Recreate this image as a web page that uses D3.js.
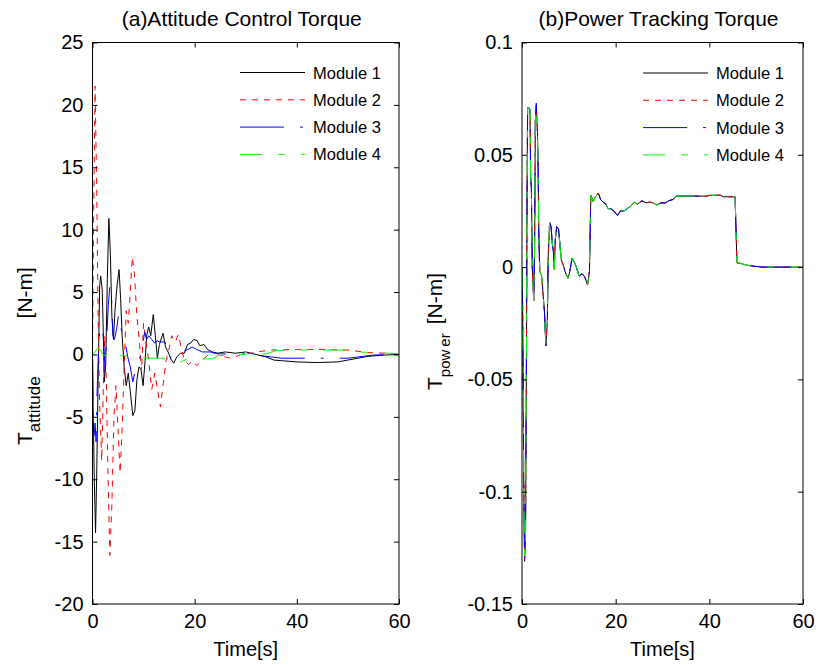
<!DOCTYPE html>
<html>
<head>
<meta charset="utf-8">
<script src="https://cdn.jsdelivr.net/npm/d3@7/dist/d3.min.js"></script>
<style>
  body { margin: 0; background: #fff; }
  svg text { font-family: "Liberation Sans", Arial, Helvetica, sans-serif; fill: #000; }
</style>
</head>
<body>
<svg id="chart" width="817" height="667"></svg>
<script>
// ---------- data ----------
const moduleNames = ["Module 1", "Module 2", "Module 3", "Module 4"];

// (a) attitude control torque, [time s, torque N-m]
const attitudeModule1 = [[0,0],[0.15,-5],[0.35,-10],[0.6,-14.3],[0.85,-9],[1.1,-2],[1.4,5.5],[1.6,6.3],[1.9,5.2],[2.1,2],[2.3,-2.2],[2.6,-0.5],[2.9,6],[3.2,10.9],[3.5,8],[3.8,3],[4.1,1.2],[4.4,3.5],[4.8,5.5],[5.2,6.8],[5.5,4.5],[5.8,1.5],[6.2,-1],[6.6,-2.5],[7.0,-1.5],[7.4,-3],[7.9,-4.9],[8.3,-4.5],[8.7,-2],[9.1,-1],[9.5,-1.2],[9.9,-2.5],[10.3,-0.5],[10.6,1.5],[11.0,2.2],[11.4,1.5],[11.9,3.2],[12.3,1.5],[12.7,-0.3],[13.1,0.8],[13.8,1.7],[14.3,0.6],[14.8,0.2],[15.4,-0.4],[15.9,-0.7],[16.5,-0.2],[17.2,0.1],[18.0,0.1],[18.6,0.8],[19.2,0.9],[19.8,1.2],[20.5,1.1],[21.0,0.7],[21.8,0.8],[22.5,0.4],[23.5,0.2],[24.5,0.1],[26,0.2],[28,0.1],[30,0.2],[32,0],[34,-0.2],[35.5,-0.45],[37,-0.5],[40,-0.6],[44,-0.65],[48,-0.6],[50,-0.45],[52,-0.3],[54,-0.15],[57,-0.05],[60,0]];
const attitudeModule2 = [[0,0],[0.2,10],[0.5,21.5],[0.8,14],[1.1,3],[1.4,-4],[1.8,-8.5],[2.1,-3],[2.4,1.5],[2.7,-2],[3.0,-9],[3.4,-16.1],[3.8,-12],[4.2,-5],[4.6,-2.5],[5.0,-6],[5.4,-9.5],[5.8,-6],[6.2,-1],[6.6,3.5],[7.0,2.5],[7.4,5],[7.8,7.8],[8.2,6.5],[8.7,3],[9.2,1],[9.6,-1.4],[10.0,2.5],[10.5,1],[11.0,-0.5],[11.6,-2.8],[12.2,-1.5],[12.8,-3],[13.3,-4.2],[13.8,-2.5],[14.4,-0.5],[15.0,0.5],[15.5,1.5],[16.2,1],[16.8,1.6],[17.4,0.5],[18.0,-0.5],[18.8,-0.8],[19.6,-0.5],[20.4,-0.9],[21.2,-0.6],[22.2,-0.2],[23,0.1],[24,0.1],[25,0],[26,-0.2],[27,-0.3],[28,-0.2],[29,0],[31,0.1],[33,0.25],[35,0.35],[40,0.4],[45,0.4],[50,0.35],[52,0.25],[54,0.15],[57,0.1],[60,0.05]];
const attitudeModule3 = [[0,0],[0.1,-4],[0.3,-6.5],[0.5,-5.5],[0.7,-7],[0.9,-3],[1.2,0.5],[1.5,2.3],[1.8,2],[2.1,1.5],[2.5,-1.4],[2.8,1.5],[3.1,4],[3.4,5.5],[3.7,5],[4.0,1.5],[4.3,1.2],[4.7,2],[5.1,3.2],[5.5,2.3],[5.9,1.5],[6.4,1],[6.9,-0.2],[7.4,-1],[7.9,-2.2],[8.3,-1.4],[8.8,-0.8],[9.3,-0.2],[9.8,0.6],[10.2,1.8],[10.6,1.2],[11.0,1.5],[11.6,1.2],[12.2,0.9],[12.6,1.1],[13.2,1.0],[14.2,1.0],[14.8,0.2],[15.2,-0.4],[15.6,0.1],[16.5,0.2],[17.3,0.2],[18.7,0.4],[19.5,0.6],[20.4,0.4],[21.5,0.2],[23,0.2],[25,0.05],[28,0],[30,0.05],[33,-0.1],[35,-0.2],[37,-0.3],[41,-0.3],[45,-0.3],[48,-0.3],[50,-0.3],[52,-0.2],[55,-0.05],[60,0]];
const attitudeModule4 = [[0,0],[0.5,0.2],[1.0,0.5],[1.5,0.4],[2.0,0],[2.5,-0.1],[3.0,0.1],[3.5,0],[4,0.2],[4.5,0],[5,-0.1],[7,-0.1],[9,-0.15],[11,-0.3],[14,-0.3],[15,-0.5],[16,-0.6],[17.4,-0.6],[18.5,-0.35],[20,-0.35],[23.5,-0.35],[24.5,-0.1],[27,-0.05],[30,0],[34,0.05],[36,0.3],[40,0.35],[45,0.35],[50,0.35],[52,0.2],[55,0.15],[58,0.1],[60,0.05]];

// (b) power tracking torque, shared time base [s]
const powerTime = [0,0.15,0.35,0.55,0.75,0.95,1.1,1.2,1.5,1.7,1.85,2.0,2.2,2.5,2.7,2.85,3.05,3.3,3.45,3.6,3.8,4.2,4.5,4.8,5.1,5.4,5.6,5.9,6.2,6.5,6.7,6.9,7.1,7.4,7.8,8.1,8.4,8.8,9.2,9.8,10.2,10.7,11.2,11.6,12.2,12.8,13.3,13.7,14.0,14.4,14.7,15.2,15.6,16.3,16.8,17.3,17.9,18.4,19.0,19.6,20.4,21.0,21.8,22.4,23.2,23.9,24.6,25.6,26.5,27.4,28.2,28.8,29.6,30.6,31.3,32.2,33.0,36,38,39.5,40.2,42.4,43.0,45.5,45.9,46.8,47.8,49.5,51.5,60];
const powerModule1 = [0,-0.02,-0.09,-0.131,-0.12,-0.04,0.04,0.071,0.071,0.07,0.04,0.035,0.0,-0.015,0.01,0.065,0.072,0.06,0.042,0.013,-0.002,-0.004,-0.012,-0.02,-0.035,-0.025,0.005,0.02,0.018,0.01,0.007,-0.001,0.012,0.018,0.017,0.01,0.003,0.001,-0.002,-0.005,-0.002,0.004,0.002,0.0,-0.004,-0.003,-0.004,-0.006,-0.008,-0.002,0.032,0.029,0.031,0.033,0.030,0.029,0.028,0.026,0.026,0.025,0.023,0.025,0.025,0.026,0.027,0.029,0.028,0.0295,0.0286,0.029,0.0283,0.0276,0.0286,0.0286,0.0295,0.0301,0.0316,0.0316,0.0316,0.0316,0.032,0.032,0.0313,0.0313,0.0019,0.0016,0.0009,0.0004,0,0];
const powerModule2 = [0,-0.02,-0.09,-0.130,-0.12,-0.04,0.04,0.071,0.071,0.07,0.04,0.035,0.0,-0.015,0.01,0.065,0.072,0.06,0.042,0.013,-0.002,-0.004,-0.012,-0.02,-0.034,-0.025,0.005,0.02,0.018,0.01,0.007,-0.001,0.012,0.018,0.017,0.01,0.003,0.001,-0.002,-0.005,-0.002,0.004,0.002,0.0,-0.004,-0.003,-0.004,-0.006,-0.008,-0.002,0.032,0.029,0.031,0.033,0.030,0.029,0.028,0.026,0.026,0.025,0.023,0.025,0.025,0.026,0.027,0.029,0.028,0.0295,0.0286,0.029,0.0283,0.0276,0.0286,0.0286,0.0295,0.0301,0.0316,0.0316,0.0316,0.0316,0.032,0.032,0.0313,0.0313,0.0019,0.0016,0.0009,0.0004,0,0];
const powerModule3 = [0,-0.02,-0.09,-0.131,-0.12,-0.04,0.04,0.071,0.071,0.07,0.04,0.035,0.0,-0.015,0.01,0.065,0.073,0.06,0.042,0.013,-0.002,-0.004,-0.012,-0.02,-0.035,-0.025,0.005,0.02,0.018,0.01,0.007,-0.001,0.012,0.018,0.017,0.01,0.003,0.001,-0.002,-0.005,-0.002,0.004,0.002,0.0,-0.004,-0.003,-0.004,-0.006,-0.008,-0.002,0.032,0.029,0.031,0.033,0.030,0.029,0.028,0.026,0.026,0.025,0.023,0.025,0.025,0.026,0.027,0.029,0.028,0.0295,0.0286,0.029,0.0283,0.0276,0.0286,0.0286,0.0295,0.0301,0.0316,0.0316,0.0316,0.0316,0.032,0.032,0.0313,0.0313,0.0019,0.0016,0.0009,0.0004,0,0];
const powerModule4 = [0,-0.02,-0.09,-0.129,-0.12,-0.04,0.04,0.071,0.071,0.07,0.04,0.035,0.0,-0.015,0.01,0.065,0.071,0.06,0.042,0.013,-0.002,-0.004,-0.012,-0.02,-0.034,-0.025,0.005,0.02,0.018,0.01,0.007,-0.001,0.012,0.018,0.017,0.01,0.003,0.001,-0.002,-0.005,-0.002,0.004,0.002,0.0,-0.004,-0.003,-0.004,-0.006,-0.008,-0.002,0.032,0.029,0.031,0.033,0.030,0.029,0.028,0.026,0.026,0.025,0.023,0.025,0.025,0.026,0.027,0.029,0.028,0.0295,0.0286,0.029,0.0283,0.0276,0.0286,0.0286,0.0295,0.0301,0.0316,0.0316,0.0316,0.0316,0.032,0.032,0.0313,0.0313,0.0019,0.0016,0.0009,0.0004,0,0];

// axis ticks
const timeTicks = [0, 20, 40, 60];
const attitudeTicks = [-20, -15, -10, -5, 0, 5, 10, 15, 20, 25];
const powerTicks = [-0.15, -0.1, -0.05, 0, 0.05, 0.1];

// ---------- styles ----------
const lineStyles = [
  { color: "#000000", dash: null },
  { color: "#ff0000", dash: "6,6" },
  { color: "#0000ff", dash: "44,16,3,16" },
  { color: "#00ff00", dash: "22,16,7,16" }
];

const svg = d3.select("#chart");

function drawPanel(cfg) {
  const x = d3.scaleLinear().domain([0, 60]).range([cfg.left, cfg.right]);
  const y = d3.scaleLinear().domain(cfg.yDomain).range([cfg.bottom, cfg.top]);
  const g = svg.append("g");

  const clipId = "clip-" + cfg.id;
  svg.append("defs").append("clipPath").attr("id", clipId)
    .append("rect").attr("x", cfg.left).attr("y", cfg.top)
    .attr("width", cfg.right - cfg.left).attr("height", cfg.bottom - cfg.top);

  const line = d3.line().x(d => x(d[0])).y(d => y(d[1]));
  const lines = g.append("g").attr("clip-path", `url(#${clipId})`);
  cfg.series.forEach((s, i) => {
    lines.append("path")
      .attr("d", line(s))
      .attr("fill", "none")
      .attr("stroke", lineStyles[i].color)
      .attr("stroke-width", 1)
      .attr("stroke-dasharray", lineStyles[i].dash)
      .attr("stroke-linejoin", "round");
  });

  // axes with inward ticks, mirrored on the opposite sides
  const fmt = d => String(d);
  const fontSize = 20;
  g.append("g").attr("transform", `translate(0,${cfg.bottom})`)
    .call(d3.axisBottom(x).tickValues(timeTicks).tickFormat(fmt).tickSizeInner(-5).tickSizeOuter(0).tickPadding(10));
  g.append("g").attr("transform", `translate(${cfg.left},0)`)
    .call(d3.axisLeft(y).tickValues(cfg.yTicks).tickFormat(fmt).tickSizeInner(-5).tickSizeOuter(0).tickPadding(9));
  g.append("g").attr("transform", `translate(0,${cfg.top})`)
    .call(d3.axisTop(x).tickValues(timeTicks).tickFormat("").tickSizeInner(-5).tickSizeOuter(0));
  g.append("g").attr("transform", `translate(${cfg.right},0)`)
    .call(d3.axisRight(y).tickValues(cfg.yTicks).tickFormat("").tickSizeInner(-5).tickSizeOuter(0));
  g.selectAll(".domain").remove();
  g.selectAll(".tick line").attr("stroke", "#000");
  g.selectAll(".tick text").attr("font-size", fontSize).attr("font-family", null).attr("fill", "#000");

  g.append("rect")
    .attr("x", cfg.left).attr("y", cfg.top)
    .attr("width", cfg.right - cfg.left).attr("height", cfg.bottom - cfg.top)
    .attr("fill", "none").attr("stroke", "#000").attr("stroke-width", 1);

  // title
  g.append("text")
    .attr("x", (cfg.left + cfg.right) / 2 - 4).attr("y", 26)
    .attr("text-anchor", "middle").attr("font-size", 21)
    .text(cfg.title);

  // x label
  g.append("text")
    .attr("x", (cfg.left + cfg.right) / 2).attr("y", 656)
    .attr("text-anchor", "middle").attr("font-size", 20)
    .text("Time[s]");

  // y label: T with subscript, laid out from the bottom end upward
  const yl = g.append("text")
    .attr("transform", `translate(${cfg.labelX},${cfg.labelY}) rotate(-90)`)
    .attr("text-anchor", "start").attr("font-size", 21);
  yl.append("tspan").text("T");
  cfg.sub.forEach((part, k) => {
    yl.append("tspan").attr("font-size", cfg.subSize).attr("dy", k === 0 ? 8 : 0).attr("dx", k === 0 ? 0 : 3).text(part);
  });
  yl.append("tspan").attr("dy", -8).attr("dx", cfg.unitGap).text("[N-m]");

  // legend
  const leg = g.append("g");
  moduleNames.forEach((name, i) => {
    const ly = cfg.legendY + i * 27.3;
    leg.append("line")
      .attr("x1", cfg.legendX).attr("x2", cfg.legendX + 65)
      .attr("y1", ly).attr("y2", ly)
      .attr("stroke", lineStyles[i].color).attr("stroke-width", 1)
      .attr("stroke-dasharray", lineStyles[i].dash);
    leg.append("text")
      .attr("x", cfg.legendX + 73).attr("y", ly + 6)
      .attr("font-size", 16.5)
      .text(name);
  });
}

drawPanel({
  id: "a",
  left: 92.5, right: 399, top: 42.5, bottom: 604,
  yDomain: [-20, 25], yTicks: attitudeTicks,
  series: [attitudeModule1, attitudeModule2, attitudeModule3, attitudeModule4],
  title: "(a)Attitude Control Torque",
  labelX: 32, labelY: 445, sub: ["attitude"], subSize: 17, unitGap: 58,
  legendX: 240, legendY: 72.5
});

const powerSeries = [powerModule1, powerModule2, powerModule3, powerModule4]
  .map(vals => powerTime.map((t, i) => [t, vals[i]]));

drawPanel({
  id: "b",
  left: 522, right: 803, top: 42.5, bottom: 604,
  yDomain: [-0.15, 0.1], yTicks: powerTicks,
  series: powerSeries,
  title: "(b)Power Tracking Torque",
  labelX: 442, labelY: 390, sub: ["pow", "er"], subSize: 15, unitGap: 9,
  legendX: 643, legendY: 73
});
</script>
</body>
</html>
